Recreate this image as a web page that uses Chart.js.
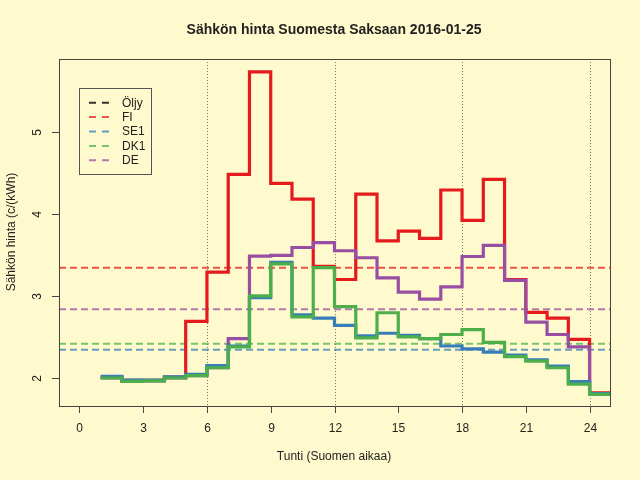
<!DOCTYPE html>
<html>
<head>
<meta charset="utf-8">
<script src="https://cdn.jsdelivr.net/npm/chart.js@4/dist/chart.umd.min.js"></script>
<style>
  html, body { margin: 0; padding: 0; background: #FFFACD; }
  canvas { display: block; }
</style>
</head>
<body>
<canvas id="price" width="640" height="480"></canvas>
<script>
// hours 1..25 (last point only closes the final step)
var hours = [1,2,3,4,5,6,7,8,9,10,11,12,13,14,15,16,17,18,19,20,21,22,23,24,25];
var fi  = [2.01,1.97,1.97,2.01,2.69,3.29,4.48,5.73,4.37,4.18,3.36,3.20,4.24,3.67,3.79,3.70,4.29,3.92,4.42,3.20,2.80,2.73,2.47,1.82,1.82];
var se1 = [2.02,1.975,1.975,2.015,2.045,2.15,2.39,2.98,3.41,2.77,2.73,2.64,2.515,2.545,2.52,2.48,2.39,2.355,2.315,2.28,2.22,2.145,1.955,1.81,1.81];
var dk1 = [2.00,1.96,1.965,2.00,2.03,2.125,2.38,3.00,3.39,2.745,3.345,2.87,2.49,2.795,2.50,2.48,2.53,2.59,2.435,2.26,2.205,2.125,1.925,1.80,1.80];
var de  = [2.00,1.96,1.965,2.00,2.03,2.125,2.48,3.485,3.495,3.59,3.65,3.55,3.465,3.22,3.045,2.96,3.11,3.48,3.615,3.19,2.68,2.53,2.38,1.81,1.81];
var oljy = [];
// daily averages (dashed lines)
var avgNames = ['FI','DE','DK1','SE1'];
var avgValues = [3.343,2.837,2.418,2.345];
var xTicks = [0,3,6,9,12,15,18,21,24];
var yTicks = [2,3,4,5];
var gridHours = [6,12,18,24];

var colors = {
  'Öljy': '#000000',
  'FI': '#E41A1C',
  'SE1': '#377EB8',
  'DK1': '#4DAF4A',
  'DE': '#984EA3'
};
var dashColors = {
  'Öljy': 'rgba(0,0,0,0.8)',
  'FI': 'rgba(228,26,28,0.75)',
  'SE1': 'rgba(55,126,184,0.75)',
  'DK1': 'rgba(77,175,74,0.75)',
  'DE': 'rgba(152,78,163,0.75)'
};
var FONT = '"Liberation Sans", Arial, Helvetica, sans-serif';

function pts(vals) {
  return vals.map(function (v, i) { return {x: hours[i], y: v}; });
}

function stepSet(label, vals, order) {
  return {
    label: label,
    data: pts(vals),
    borderColor: colors[label],
    borderWidth: 3.2,
    stepped: true,
    pointRadius: 0,
    fill: false,
    order: order,
    legendEntry: true
  };
}

var datasets = [
  stepSet('Öljy', oljy, 0),
  stepSet('DK1', dk1, 1),
  stepSet('SE1', se1, 2),
  stepSet('DE', de, 3),
  stepSet('FI', fi, 4)
];
avgNames.forEach(function (n, i) {
  datasets.push({
    label: n + ' avg',
    data: [{x: -0.96, y: avgValues[i]}, {x: 24.96, y: avgValues[i]}],
    borderColor: dashColors[n],
    borderWidth: 2,
    borderDash: [7, 4],
    pointRadius: 0,
    fill: false,
    order: 10 + i
  });
});

var rPlot = {
  id: 'rPlot',
  beforeDraw: function (chart) {
    var c = chart.ctx;
    c.save();
    c.fillStyle = '#FFFACD';
    c.fillRect(0, 0, chart.width, chart.height);
    c.restore();
  },
  beforeDatasetsDraw: function (chart) {
    var c = chart.ctx, a = chart.chartArea, xs = chart.scales.x;
    c.save();
    c.strokeStyle = '#777777';
    c.lineWidth = 1;
    c.setLineDash([1, 2]);
    gridHours.forEach(function (h) {
      var px = Math.round(xs.getPixelForValue(h)) + 0.5;
      c.beginPath();
      c.moveTo(px, a.top);
      c.lineTo(px, a.bottom);
      c.stroke();
    });
    c.restore();
  },
  afterDraw: function (chart) {
    var c = chart.ctx, a = chart.chartArea, xs = chart.scales.x, ys = chart.scales.y;
    c.save();
    // box
    c.strokeStyle = '#444444';
    c.lineWidth = 1;
    c.strokeRect(Math.round(a.left) + 0.5, Math.round(a.top) + 0.5,
      Math.round(a.right - a.left), Math.round(a.bottom - a.top));

    c.fillStyle = '#222222';
    c.font = '12px ' + FONT;
    // x ticks
    c.textAlign = 'center';
    c.textBaseline = 'middle';
    xTicks.forEach(function (t) {
      var px = Math.round(xs.getPixelForValue(t)) + 0.5;
      c.beginPath();
      c.moveTo(px, a.bottom);
      c.lineTo(px, a.bottom + 7);
      c.stroke();
      c.fillText(String(t), px, 429);
    });
    // y ticks (rotated labels like R)
    yTicks.forEach(function (t) {
      var py = Math.round(ys.getPixelForValue(t)) + 0.5;
      c.beginPath();
      c.moveTo(a.left, py);
      c.lineTo(a.left - 7, py);
      c.stroke();
      c.save();
      c.translate(38, py);
      c.rotate(-Math.PI / 2);
      c.fillText(String(t), 0, 0);
      c.restore();
    });
    // axis titles
    c.fillText('Tunti (Suomen aikaa)', 334, 457);
    c.save();
    c.translate(12, 232);
    c.rotate(-Math.PI / 2);
    c.fillText('Sähkön hinta (c/(kWh)', 0, 0);
    c.restore();
    // main title
    c.font = 'bold 14px ' + FONT;
    c.fillText('Sähkön hinta Suomesta Saksaan 2016-01-25', 334, 30);

    // legend
    var items = chart.data.datasets.filter(function (d) { return d.legendEntry; });
    var order = ['Öljy', 'FI', 'SE1', 'DK1', 'DE'];
    items.sort(function (p, q) { return order.indexOf(p.label) - order.indexOf(q.label); });
    c.strokeStyle = '#555555';
    c.lineWidth = 1;
    c.strokeRect(79.5, 88.5, 72, 86);
    c.font = '12px ' + FONT;
    c.textAlign = 'left';
    items.forEach(function (d, i) {
      var y = 102.7 + i * 14.4;
      c.strokeStyle = dashColors[d.label];
      c.lineWidth = 2;
      c.setLineDash([7, 6]);
      c.beginPath();
      c.moveTo(89, y);
      c.lineTo(110, y);
      c.stroke();
      c.setLineDash([]);
      c.fillStyle = '#222222';
      c.fillText(d.label, 122, y + 0.5);
    });
    c.restore();
  }
};

new Chart(document.getElementById('price').getContext('2d'), {
  type: 'line',
  data: { datasets: datasets },
  options: {
    responsive: false,
    animation: false,
    devicePixelRatio: 1,
    layout: { padding: { left: 59, top: 59, right: 30, bottom: 74 } },
    scales: {
      x: { type: 'linear', min: -0.96, max: 24.96, display: false },
      y: { type: 'linear', min: 1.659, max: 5.886, display: false }
    },
    plugins: {
      legend: { display: false },
      title: { display: false },
      tooltip: { enabled: false }
    }
  },
  plugins: [rPlot]
});
</script>
</body>
</html>
